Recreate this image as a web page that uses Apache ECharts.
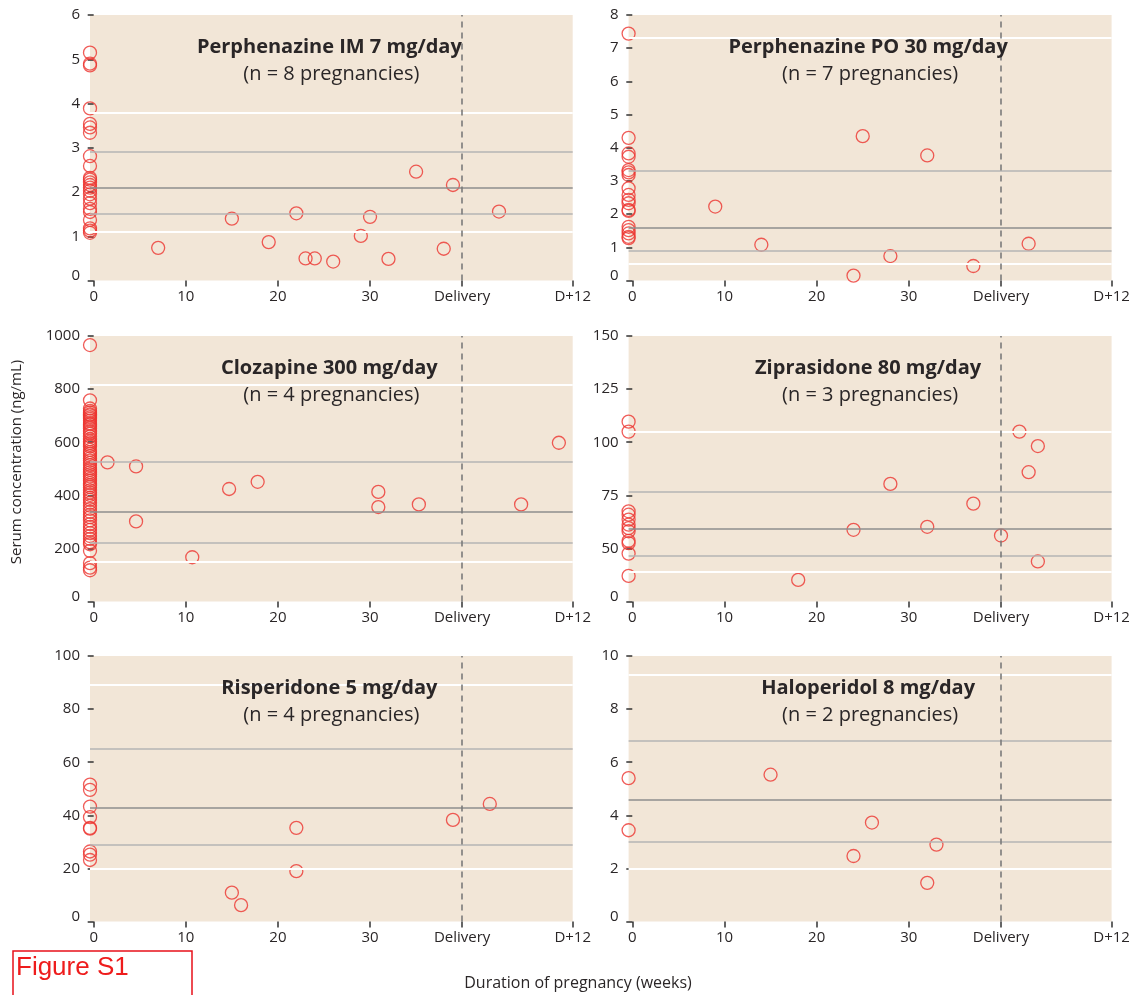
<!DOCTYPE html>
<html>
<head>
<meta charset="utf-8">
<script src="https://cdn.jsdelivr.net/npm/echarts@6/dist/echarts.min.js"></script>
<style>
html,body{margin:0;padding:0;background:#fff;}
#chart{width:1148px;height:995px;}
</style>
</head>
<body>
<div id="chart"></div>
<script>
// ---------- DATA ----------
const xTickValues = [0, 10, 20, 30, 40, 52];
const xTickLabels = ['0', '10', '20', '30', 'Delivery', 'D+12'];
const baselineWeek = -0.4;

const panelTitles = ['Perphenazine IM 7 mg/day', 'Perphenazine PO 30 mg/day', 'Clozapine 300 mg/day',
  'Ziprasidone 80 mg/day', 'Risperidone 5 mg/day', 'Haloperidol 8 mg/day'];
const panelSubtitles = ['(n = 8 pregnancies)', '(n = 7 pregnancies)', '(n = 4 pregnancies)',
  '(n = 3 pregnancies)', '(n = 4 pregnancies)', '(n = 2 pregnancies)'];

// Perphenazine IM
const perphIMBaseline = [5.15, 4.9, 4.86, 3.89, 3.54, 3.46, 3.34, 2.81, 2.59, 2.32, 2.28, 2.22, 2.16, 2.1, 2.03, 1.95, 1.85, 1.75, 1.62, 1.55, 1.37, 1.18, 1.13, 1.08];
const perphIMWeeks = [7, 15, 19, 22, 23, 24, 26, 29, 30, 32, 35, 38, 39, 44];
const perphIMValues = [0.74, 1.40, 0.87, 1.52, 0.50, 0.50, 0.43, 1.01, 1.44, 0.49, 2.46, 0.72, 2.16, 1.56];
const perphIMLines = [3.8, 2.9, 2.1, 1.5, 1.1];

// Perphenazine PO
const perphPOBaseline = [7.44, 4.3, 3.83, 3.73, 3.33, 3.26, 3.18, 2.78, 2.58, 2.43, 2.33, 2.13, 2.1, 1.62, 1.52, 1.42, 1.32, 1.28];
const perphPOWeeks = [9, 14, 24, 25, 28, 32, 37, 43];
const perphPOValues = [2.23, 1.08, 0.15, 4.35, 0.74, 3.77, 0.44, 1.11];
const perphPOLines = [7.3, 3.3, 1.6, 0.9, 0.5];

// Clozapine
const clozBaseline = [966, 758, 727, 718, 712, 705, 701, 694, 688, 681, 672, 667, 660, 652, 641, 633, 622, 611, 603, 597, 590, 584, 571, 563, 556, 548, 539, 531, 522, 514, 503, 496, 487, 479, 471, 462, 455, 446, 438, 431, 419, 410, 402, 391, 383, 372, 361, 349, 338, 327, 318, 306, 292, 281, 270, 258, 247, 236, 224, 216, 191, 145, 128, 118];
const clozWeeks = [1.5, 4.6, 4.6, 10.7, 14.7, 17.8, 30.9, 30.9, 35.3, 46.4, 50.5];
const clozValues = [524, 509, 302, 167, 424, 451, 413, 356, 366, 366, 598];
const clozLines = [815, 528, 339, 222, 149];

// Ziprasidone
const zipBaseline = [109.7, 105, 67.5, 65.9, 63.6, 61.2, 59.6, 58.1, 53.6, 52.5, 47.6, 37.1];
const zipWeeks = [18, 24, 28, 32, 37, 40, 42, 43, 44, 44];
const zipValues = [35.2, 58.8, 80.4, 60.2, 71.1, 56.1, 105, 85.9, 98.2, 43.9];
const zipLines = [105, 76.6, 59.2, 46.6, 39.1];

// Risperidone
const rispBaseline = [51.6, 49.6, 43.3, 39.3, 35.3, 35, 26.4, 25.2, 23.2];
const rispWeeks = [15, 16, 22, 22, 39, 43];
const rispValues = [10.9, 6.2, 35.3, 19.0, 38.3, 44.3];
const rispLines = [89, 65, 43, 29, 20];

// Haloperidol
const haloBaseline = [5.4, 3.44];
const haloWeeks = [15, 24, 26, 32, 33];
const haloValues = [5.53, 2.47, 3.73, 1.46, 2.9];
const haloLines = [9.3, 6.8, 4.6, 3.0, 2.0];

// y-axis ranges [min, max, interval]
const yRanges = [[0, 6, 1], [0, 8, 1], [0, 1000, 200], [25, 150, 25], [0, 100, 20], [0, 10, 2]];

// ---------- BUILD ----------
const baselines = [perphIMBaseline, perphPOBaseline, clozBaseline, zipBaseline, rispBaseline, haloBaseline];
const weeksAll = [perphIMWeeks, perphPOWeeks, clozWeeks, zipWeeks, rispWeeks, haloWeeks];
const valuesAll = [perphIMValues, perphPOValues, clozValues, zipValues, rispValues, haloValues];
const linesAll = [perphIMLines, perphPOLines, clozLines, zipLines, rispLines, haloLines];

const FONT = '"Open Sans", "Noto Sans", sans-serif';
const TXT = '#2a2627';
const RED = '#ec3530';
const BEIGE = '#f2e6d7';
const lineStyles = [
  {color: '#ffffff', width: 2},
  {color: '#b5b5b5', width: 1.6},
  {color: '#8e8e8e', width: 1.6},
  {color: '#b5b5b5', width: 1.6},
  {color: '#ffffff', width: 2}
];

const colLeft = [90, 628.6];
const colWidth = [482.7, 483];
const rowTop = [15, 336, 656];
const gridH = 265.6;

const grids = [], xAxes = [], yAxes = [], series = [], graphics = [];

for (let i = 0; i < 6; i++) {
  const c = i % 2, r = Math.floor(i / 2);
  grids.push({
    left: colLeft[c], top: rowTop[r], width: colWidth[c], height: gridH,
    show: true, backgroundColor: BEIGE, borderWidth: 0, containLabel: false
  });
  xAxes.push({
    type: 'value', gridIndex: i, min: -0.4, max: 52,
    axisLine: {show: false},
    splitLine: {show: false},
    axisTick: {show: true, length: 6, customValues: xTickValues, lineStyle: {color: '#333', width: 1.5}},
    axisLabel: {
      show: true, customValues: xTickValues, margin: 9,
      color: TXT, fontSize: 15, fontFamily: FONT,
      formatter: function (v) { const k = xTickValues.indexOf(v); return k >= 0 ? xTickLabels[k] : ''; }
    }
  });
  const yr = yRanges[i];
  yAxes.push({
    type: 'value', gridIndex: i, min: yr[0], max: yr[1], interval: yr[2],
    axisLine: {show: false},
    splitLine: {show: false},
    axisTick: {show: true, length: 6, lineStyle: {color: '#333', width: 1.5}},
    axisLabel: {
      margin: 10, color: TXT, fontSize: 15, fontFamily: FONT,
      formatter: function (v) { return v === yr[0] ? '{z|0}' : String(v); },
      rich: {z: {color: TXT, fontSize: 15, fontFamily: FONT, padding: [0, 0, 10, 0]}}
    }
  });
  const pts = [];
  baselines[i].forEach(v => pts.push([baselineWeek, v]));
  weeksAll[i].forEach((w, k) => pts.push([w, valuesAll[i][k]]));
  const mlData = linesAll[i].map((v, k) => ({yAxis: v, lineStyle: Object.assign({type: 'solid'}, lineStyles[k])}));
  mlData.push({xAxis: 40, lineStyle: {color: '#7b7b7b', width: 1.6, type: [6, 5]}});
  series.push({
    type: 'scatter', xAxisIndex: i, yAxisIndex: i, clip: false,
    symbol: 'circle', symbolSize: 13,
    itemStyle: {color: 'rgba(0,0,0,0)', borderColor: RED, borderWidth: 1.3},
    data: pts,
    markLine: {silent: true, symbol: ['none', 'none'], label: {show: false}, animation: false, data: mlData},
    z: 3
  });
  const cx = colLeft[c] + colWidth[c] / 2;
  graphics.push({
    type: 'text', x: cx - 2, y: rowTop[r] + 32, z: 10,
    style: {text: panelTitles[i], textAlign: 'center', textVerticalAlign: 'middle',
      fontSize: 20, fontWeight: 'bold', fontFamily: FONT, fill: TXT}
  });
  graphics.push({
    type: 'text', x: cx, y: rowTop[r] + 59, z: 10,
    style: {text: panelSubtitles[i], textAlign: 'center', textVerticalAlign: 'middle',
      fontSize: 20, fontFamily: FONT, fill: TXT}
  });
}

graphics.push({
  type: 'text', x: 17, y: 462, rotation: Math.PI / 2,
  style: {text: 'Serum concentration (ng/mL)', textAlign: 'center', textVerticalAlign: 'middle',
    fontSize: 15, fontFamily: FONT, fill: TXT}
});
graphics.push({
  type: 'text', x: 578, y: 983,
  style: {text: 'Duration of pregnancy (weeks)', textAlign: 'center', textVerticalAlign: 'middle',
    fontSize: 16, fontFamily: FONT, fill: TXT}
});
graphics.push({
  type: 'rect', shape: {x: 13, y: 951, width: 179, height: 60},
  style: {fill: 'none', stroke: '#e8101a', lineWidth: 1.5}
});
graphics.push({
  type: 'text', x: 16, y: 968,
  style: {text: 'Figure S1', textAlign: 'left', textVerticalAlign: 'middle',
    fontSize: 26, fontFamily: '"Liberation Sans", Arial, sans-serif', fill: '#ee1c1c'}
});

const chart = echarts.init(document.getElementById('chart'), null, {renderer: 'canvas'});
chart.setOption({
  animation: false,
  backgroundColor: '#ffffff',
  grid: grids, xAxis: xAxes, yAxis: yAxes, series: series, graphic: graphics
});
</script>
</body>
</html>
